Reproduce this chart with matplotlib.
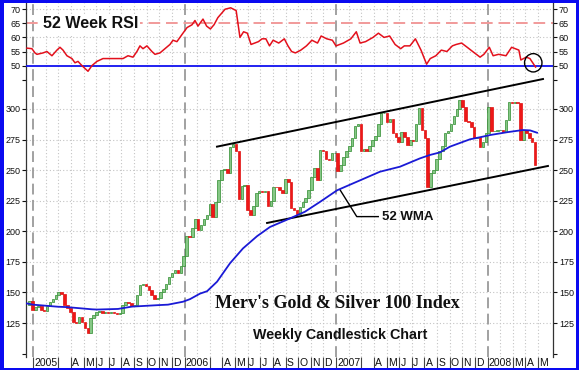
import numpy as np
import pandas as pd
import matplotlib
matplotlib.use("Agg")
import matplotlib.pyplot as plt
from matplotlib.patches import Ellipse, Rectangle

# ---------------- data ----------------
week_start = "2004-12-24"
first_open = 140.0
closes = [
    143, 136, 138, 138.5, 136, 134.5, 138.5, 142.5, 145, 148,
    150, 149, 140, 137, 134, 126, 125, 130, 126, 121,
    117, 129, 131.5, 134, 134.5, 133.5, 134, 133, 134, 133,
    132.5, 133.5, 139.5, 142.5, 141, 138.5, 140, 148, 156, 156.5,
    155, 152, 148, 145, 145.5, 150, 153, 157, 163, 166,
    168, 166, 172, 180, 196, 195, 203, 210, 201, 205,
    210, 213, 222, 212, 224, 242, 250, 251, 248, 269,
    271, 266, 226, 237, 237.5, 217, 213, 221, 231, 233,
    232, 233, 221, 225, 236.5, 236, 234, 231, 243, 240,
    219, 217.5, 214.5, 220, 224, 227, 234, 244.5, 251.5, 242,
    266.5, 266, 259, 258, 264, 264, 249, 254, 261, 266,
    270, 276, 286, 288, 266, 267, 266, 270, 275, 278,
    288, 296.5, 297, 289, 292, 280, 277, 273, 281, 277,
    270.5, 275, 274, 288, 301, 283, 276, 236, 248, 250,
    259, 266, 270, 280, 282, 288, 294, 300, 307, 302,
    290, 289, 285, 276, 277, 269, 273, 280, 302, 282,
    282, 283, 283, 281, 291, 306, 305, 306, 305, 275,
    283, 280, 276, 273, 254,
]

# 52-week weighted moving average, decimal years
wma_t = [2004.960, 2005.000, 2005.165, 2005.224, 2005.389, 2005.422, 2005.561,
         2005.653, 2005.825, 2005.891, 2005.990, 2006.036, 2006.102, 2006.149,
         2006.215, 2006.300, 2006.386, 2006.479, 2006.564, 2006.696, 2006.795,
         2006.894, 2007.007, 2007.139, 2007.290, 2007.422, 2007.554, 2007.620,
         2007.686, 2007.752, 2007.884, 2007.970, 2008.017, 2008.129, 2008.234,
         2008.281, 2008.327]
wma_v = [141, 140, 138.3, 138, 136.2, 136, 136.5, 138.4, 139.6, 140, 142.4,
         144.5, 149, 151, 158.8, 173.8, 186, 196, 203.5, 210.5, 216, 224,
         233.5, 240.6, 248.7, 252.8, 259.6, 262.4, 264.5, 269.2, 275.2, 277.4,
         278.7, 281, 282.8, 282.5, 280.6]

# 52 week RSI, decimal years
rsi_t = [2004.960, 2004.993, 2005.013, 2005.026, 2005.066, 2005.092, 2005.125,
         2005.158, 2005.178, 2005.198, 2005.224, 2005.257, 2005.277, 2005.297,
         2005.323, 2005.343, 2005.363, 2005.389, 2005.422, 2005.462, 2005.528,
         2005.594, 2005.627, 2005.660, 2005.686, 2005.706, 2005.726, 2005.752,
         2005.785, 2005.805, 2005.838, 2005.871, 2005.904, 2005.924, 2005.950,
         2005.983, 2006.017, 2006.050, 2006.069, 2006.089,
         2006.122, 2006.146, 2006.171, 2006.195, 2006.220, 2006.244, 2006.268,
         2006.305, 2006.341, 2006.366, 2006.390, 2006.415, 2006.439, 2006.488,
         2006.512, 2006.537, 2006.561, 2006.585, 2006.622, 2006.659, 2006.683,
         2006.707, 2006.732, 2006.768, 2006.805, 2006.841, 2006.878, 2006.902,
         2006.939, 2006.976, 2007.000, 2007.049, 2007.098, 2007.134, 2007.159,
         2007.195, 2007.244, 2007.280, 2007.317, 2007.354, 2007.390, 2007.427,
         2007.451, 2007.488, 2007.524, 2007.561, 2007.598, 2007.622, 2007.659,
         2007.695, 2007.732, 2007.768, 2007.793, 2007.829, 2007.866, 2007.902,
         2007.951, 2007.976, 2008.012, 2008.037, 2008.073, 2008.122, 2008.159,
         2008.183, 2008.207, 2008.220, 2008.256, 2008.280, 2008.317]
rsi_v = [56.2, 56, 54.5, 54, 54.5, 55, 53.5, 55.5, 56.5, 55.5, 53.5, 52.5, 51,
         51.5, 50, 49, 48, 50, 51.5, 52.5, 52.5, 52.5, 53.5, 53, 55, 57, 56,
         57, 55, 54, 54.5, 56, 57.5, 59, 58.5, 61, 63.5, 64.5, 66, 64,
         66.5, 64, 63, 64.5, 67, 68.5, 70, 70.5, 69.5, 60, 62, 61.5, 57.5,
         58.5, 59.5, 59.5, 57, 59, 58, 59.5, 57, 55, 54.5, 55.5, 57, 59, 58,
         60.5, 59.5, 59, 57, 58, 59.5, 62, 58, 58.5, 60, 61.5, 60, 60.5, 57.5,
         56, 57, 57, 59.5, 55.5, 50.5, 52.5, 53.5, 55.5, 55, 57, 57.5, 58,
         56.5, 55, 53, 54, 56.5, 53.5, 54, 53.5, 56.5, 56, 55.5, 52, 53, 52.5,
         49.5]

# trend channel
upper_t = [2006.2145, 2008.3663]
upper_v = [269.2, 324.5]
lower_t = [2006.545, 2008.399]
lower_v = [206.8, 253.4]
# annotation leader for the WMA
wma_leader_t = [2007.026, 2007.137, 2007.279]
wma_leader_v = [234, 212, 212]
rsi_circle = (2008.302, 51.0)

years = [2005, 2006, 2007, 2008]
month_labels = {
    2005: ["2005", None, "", "A", "M", "J", "J", "A", "S", "O", "N", "D"],
    2006: ["2006", None, "", "A", "M", "J", "J", "A", "S", "O", "N", "D"],
    2007: ["2007", None, "", "A", "M", "J", "J", "A", "S", "O", "N", "D"],
    2008: ["2008", None, "M", "A", "M"],
}
main_ticks = [100, 125, 150, 175, 200, 225, 250, 275, 300]
main_ticklabels = ["", "125", "150", "175", "200", "225", "250", "275", "300"]
rsi_ticks = [45, 50, 55, 60, 65, 70]
rsi_ticklabels = ["", "50", "55", "60", "65", "70"]

# ---------------- derived ----------------
dates = pd.date_range(week_start, periods=len(closes), freq="7D")
tdec = np.asarray(dates.year + (dates.dayofyear - 1) /
                  np.where(dates.is_leap_year, 366, 365), dtype=float)
closes_a = np.array(closes, dtype=float)
opens_a = np.concatenate([[first_open], closes_a[:-1]])

W, H = 579, 370
fig = plt.figure(figsize=(W / 100, H / 100), dpi=100)
fig.patch.set_facecolor("white")
sans = ["Liberation Sans", "DejaVu Sans"]
plt.rcParams["font.family"] = sans

xl = (2004.9538, 2008.4323)
ax_r = fig.add_axes([26 / W, 1 - 80 / H, 527 / W, 77 / H])
ax = fig.add_axes([26 / W, 13 / H, 527 / W, 277 / H])

grid_kw = dict(color="#c4c4c4", lw=0.8, linestyle=(0, (1, 2)), zorder=0)
month_pos = []
for y in years:
    n = len(month_labels[y])
    for m in range(n):
        month_pos.append(y + m / 12.0)

for a in (ax_r, ax):
    a.set_xlim(*xl)
    for mp in month_pos:
        if abs(mp - round(mp)) > 1e-6:
            a.axvline(mp, **grid_kw)
    for y in years:
        a.axvline(y, color="#9a9a9a", lw=1.3, linestyle=(0, (6, 3)), zorder=1)
    for s in ("top", "bottom"):
        a.spines[s].set_visible(False)
    for s in ("left", "right"):
        a.spines[s].set_color("#333333")
        a.spines[s].set_linewidth(0.9)
    a.tick_params(axis="y", which="both", left=True, right=True,
                  labelleft=True, labelright=True, direction="out",
                  length=3, width=0.8, labelsize=6.5, pad=1.2, colors="#111111")

# ---- RSI panel ----
ax_r.set_ylim(44.9, 72.2)
ax_r.set_yticks(rsi_ticks)
ax_r.set_yticklabels(rsi_ticklabels)
ax_r.set_xticks([])
for v in (55, 60, 70):
    ax_r.axhline(v, **grid_kw)
ax_r.axhline(65, color="#f19a9a", lw=1.4, linestyle=(0, (6, 3)), zorder=1)
ax_r.axhline(50, color="#1010f0", lw=1.3, zorder=3)
ax_r.plot(rsi_t, rsi_v, color="#e3101c", lw=1.1, zorder=4)
ax_r.add_patch(Ellipse(rsi_circle, width=0.115, height=6.5, fill=False,
                       edgecolor="black", lw=1.0, zorder=5))
fig.text(43 / W, 1 - 24 / H, "52 Week RSI", fontsize=11.5, fontweight="bold",
         va="center", ha="left", color="#111111",
         bbox=dict(facecolor="white", edgecolor="none", pad=1.5))

# ---- main panel ----
ax.set_ylim(97.2, 323.7)
ax.set_yticks(main_ticks)
ax.set_yticklabels(main_ticklabels)
for v in main_ticks[1:]:
    ax.axhline(v, **grid_kw)

up = closes_a >= opens_a
bw = 0.0165
ax.bar(tdec[up], (closes_a - opens_a)[up], bottom=opens_a[up], width=bw,
       color="#86c886", edgecolor="#2e8b2e", lw=0.5, zorder=2)
ax.bar(tdec[~up], (closes_a - opens_a)[~up], bottom=opens_a[~up], width=bw,
       color="#ee1818", edgecolor="#e01010", lw=0.5, zorder=2)

ax.plot(wma_t, wma_v, color="#1a1ad6", lw=1.3, zorder=4)
ax.plot(upper_t, upper_v, color="black", lw=1.4, zorder=3, clip_on=False)
ax.plot(lower_t, lower_v, color="black", lw=1.4, zorder=3)
ax.plot(wma_leader_t, wma_leader_v, color="black", lw=1.0, zorder=3)
ax.text(2007.305, 212, "52 WMA", fontsize=9.5, fontweight="bold",
        va="center", ha="left", color="#111111")

fig.text(215 / W, 1 - 304 / H, "Merv's Gold & Silver 100 Index",
         family=["Liberation Serif", "DejaVu Serif"], fontsize=13,
         fontweight="bold", va="center", ha="left", color="#111111")
fig.text(253 / W, 1 - 334.5 / H, "Weekly Candlestick Chart", fontsize=10.3,
         fontweight="bold", va="center", ha="left", color="#111111")

# month separators and labels
sep = []
for y in years:
    for m, lab in enumerate(month_labels[y]):
        if lab is None:
            continue
        pos = y + m / 12.0
        sep.append(pos)
        if lab:
            ax.text(pos + 0.008, -0.022, lab, transform=ax.get_xaxis_transform(),
                    ha="left", va="center", fontsize=7.5, color="#111111")
ax.set_xticks(sep)
ax.tick_params(axis="x", direction="out", length=8, width=0.8,
               labelbottom=False, color="#444444")

# blue frame
bc = "#0a0af0"
for r in [(0, 0, 4 / W, 1), (0, 1 - 3 / H, 1, 3 / H),
          (1 - 3 / W, 0, 3 / W, 1), (0, 0, 1, 2.5 / H)]:
    fig.add_artist(Rectangle((r[0], r[1]), r[2], r[3], transform=fig.transFigure,
                             facecolor=bc, edgecolor="none", zorder=10))

fig.savefig("out.png", dpi=100)
